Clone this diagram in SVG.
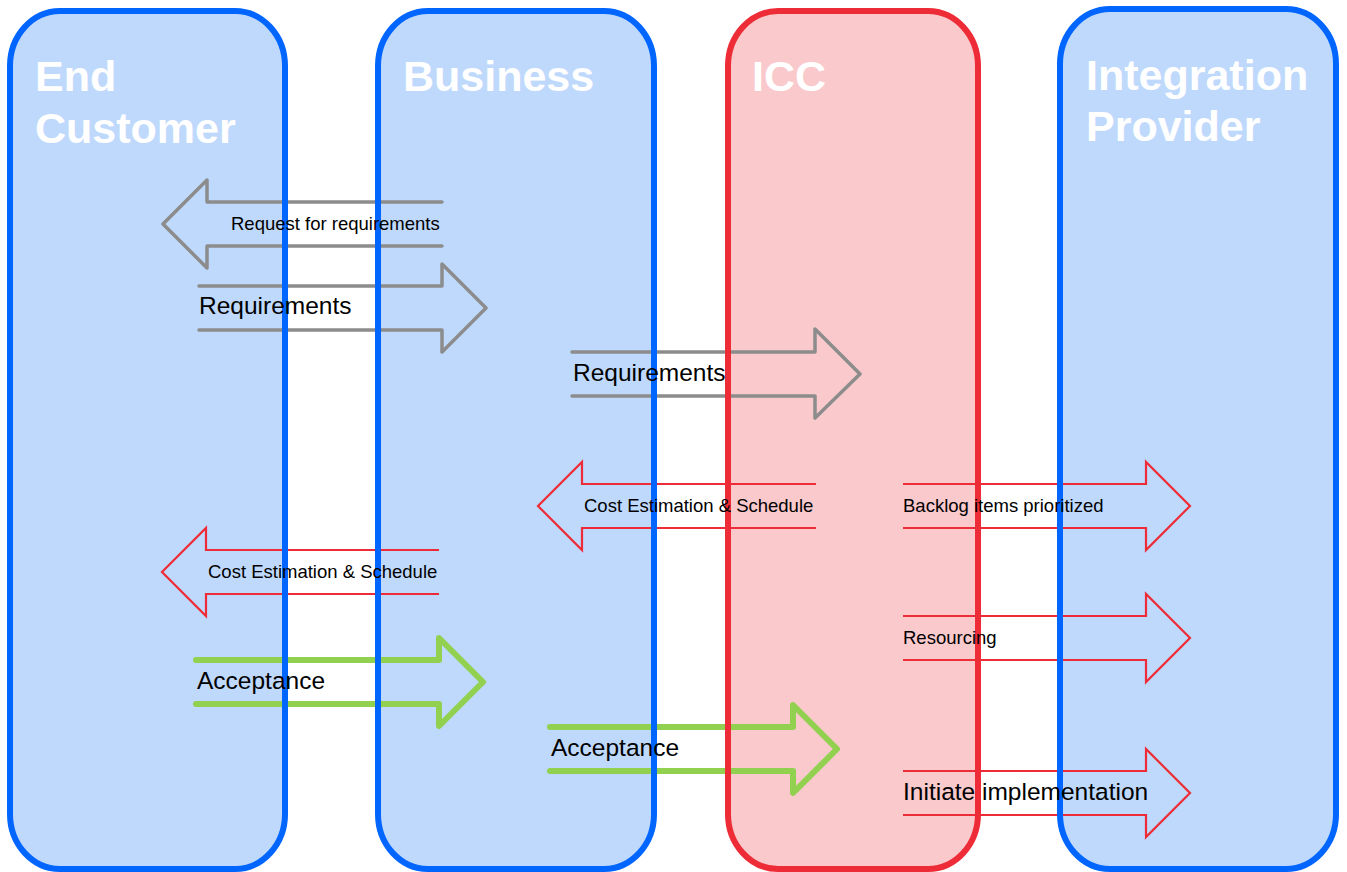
<svg xmlns="http://www.w3.org/2000/svg" width="1347" height="872" viewBox="0 0 1347 872">
  <style>
    .lane-blue { fill: #BFD9FC; }
    .lane-red { fill: #F9C9CC; }
    .edge-blue { fill: none; stroke: #0066FF; stroke-width: 6; }
    .edge-red { fill: none; stroke: #EE2C37; stroke-width: 6; }
    .title { font-family: "Liberation Sans", Arial, sans-serif; font-weight: bold; font-size: 43px; fill: #FFFFFF; }
    .arrow-gray { fill: none; stroke: #8C8C8C; stroke-width: 3.5; stroke-linecap: round; stroke-linejoin: round; }
    .arrow-red { fill: none; stroke: #EE2C37; stroke-width: 2.2; }
    .arrow-green { fill: none; stroke: #92D050; stroke-width: 6; stroke-linecap: round; stroke-linejoin: round; }
    .lbl-s { font-family: "Liberation Sans", Arial, sans-serif; font-size: 18.5px; fill: #000000; }
    .lbl-l { font-family: "Liberation Sans", Arial, sans-serif; font-size: 24.5px; fill: #000000; }
  </style>

  <!-- swimlanes: background fills and titles -->
  <g id="lane-end-customer">
    <rect class="lane-blue" x="10" y="11" width="275" height="858" rx="50" ry="55"/>
    <text class="title" x="35" y="91">End</text>
    <text class="title" x="35" y="143">Customer</text>
  </g>
  <g id="lane-business">
    <rect class="lane-blue" x="378" y="11" width="276" height="858" rx="50" ry="55"/>
    <text class="title" x="403" y="91">Business</text>
  </g>
  <g id="lane-icc">
    <rect class="lane-red" x="728" y="11" width="250" height="858" rx="50" ry="55"/>
    <text class="title" x="752" y="91">ICC</text>
  </g>
  <g id="lane-integration-provider">
    <rect class="lane-blue" x="1060" y="9" width="276" height="860" rx="50" ry="55"/>
    <text class="title" x="1086" y="90">Integration</text>
    <text class="title" x="1086" y="141">Provider</text>
  </g>

  <!-- message arrows between lanes -->
  <g id="connectors">
    <path id="msg-request-for-requirements" class="arrow-gray" d="M442,202 H207 V180 L163,224 L207,268 V246 H442"/>
    <path id="msg-requirements-1" class="arrow-gray" d="M199,286 H442 V264 L486,308 L442,352 V330 H199"/>
    <path id="msg-requirements-2" class="arrow-gray" d="M572,352 H815 V329 L860,374 L815,418 V396 H572"/>
    <path id="msg-cost-estimation-1" class="arrow-red" d="M816,484 H582 V462 L538,506 L582,550 V528 H816"/>
    <path id="msg-backlog-items" class="arrow-red" d="M903,484 H1146 V462 L1190,506 L1146,550 V528 H903"/>
    <path id="msg-cost-estimation-2" class="arrow-red" d="M439,550 H206 V528 L162,572 L206,616 V594 H439"/>
    <path id="msg-resourcing" class="arrow-red" d="M903,616 H1146 V594 L1190,638 L1146,682 V660 H903"/>
    <path id="msg-acceptance-1" class="arrow-green" d="M196,660 H439 V638 L483,682 L439,726 V704 H196"/>
    <path id="msg-acceptance-2" class="arrow-green" d="M550,727 H793 V705 L837,749 L793,793 V771 H550"/>
    <path id="msg-initiate-implementation" class="arrow-red" d="M903,771 H1146 V749 L1190,793 L1146,837 V815 H903"/>
  </g>

  <!-- swimlane outlines, drawn above the arrow outlines -->
  <g id="lane-borders">
    <rect class="edge-blue" x="10" y="11" width="275" height="858" rx="50" ry="55"/>
    <rect class="edge-blue" x="378" y="11" width="276" height="858" rx="50" ry="55"/>
    <rect class="edge-red" x="728" y="11" width="250" height="858" rx="50" ry="55"/>
    <rect class="edge-blue" x="1060" y="9" width="276" height="860" rx="50" ry="55"/>
  </g>

  <!-- arrow labels, on top of everything -->
  <g id="connector-labels">
    <text class="lbl-s" x="231" y="230">Request for requirements</text>
    <text class="lbl-l" x="199" y="314">Requirements</text>
    <text class="lbl-l" x="573" y="381">Requirements</text>
    <text class="lbl-s" x="584" y="512">Cost Estimation &amp; Schedule</text>
    <text class="lbl-s" x="903" y="512">Backlog items prioritized</text>
    <text class="lbl-s" x="208" y="578">Cost Estimation &amp; Schedule</text>
    <text class="lbl-s" x="903" y="644">Resourcing</text>
    <text class="lbl-l" x="197" y="689">Acceptance</text>
    <text class="lbl-l" x="551" y="756">Acceptance</text>
    <text class="lbl-l" x="903" y="800">Initiate implementation</text>
  </g>
</svg>
